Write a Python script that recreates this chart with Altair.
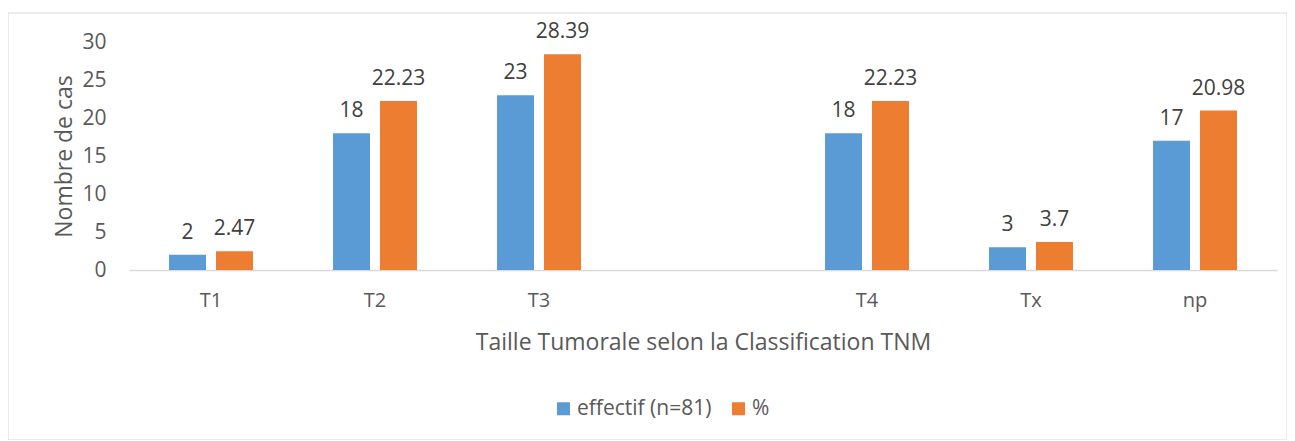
import altair as alt
import pandas as pd

categories = ["T1", "T2", "T3", "", "T4", "Tx", "np"]
present = ["T1", "T2", "T3", "T4", "Tx", "np"]
effectif = [2, 18, 23, 18, 3, 17]
percent = [2.47, 22.23, 28.39, 22.23, 3.7, 20.98]
series = ["effectif (n=81)", "%"]
colors = ["#5B9BD5", "#ED7D31"]
y_ticks = [0, 5, 10, 15, 20, 25, 30]

rows = []
for c, e, p in zip(present, effectif, percent):
    rows.append({"cat": c, "series": series[0], "value": e, "label": str(e)})
    rows.append({"cat": c, "series": series[1], "value": p, "label": f"{p:g}"})
df = pd.DataFrame(rows)

FONT = "Open Sans"
W, H = 1148, 228

x = alt.X(
    "cat:N",
    sort=categories,
    scale=alt.Scale(domain=categories, paddingInner=0.488, paddingOuter=0.244),
    axis=alt.Axis(
        title="Taille Tumorale selon la Classification TNM",
        titleFontSize=23,
        titleFontWeight="normal",
        titleColor="#595959",
        titleBaseline="alphabetic",
        titleY=79,
        labelAngle=0,
        labelFontSize=20,
        labelColor="#595959",
        labelPadding=20,
        ticks=False,
        domainColor="#d9d9d9",
        domainWidth=1.5,
    ),
)
xoff = alt.XOffset(
    "series:N",
    sort=series,
    scale=alt.Scale(domain=series, paddingInner=0.213, paddingOuter=0),
)
y = alt.Y(
    "value:Q",
    scale=alt.Scale(domain=[0, 30], nice=False),
    axis=alt.Axis(
        title="Nombre  de cas",
        titleFontSize=23,
        titleFontWeight="normal",
        titleColor="#595959",
        titleBaseline="alphabetic",
        titleX=-58,
        titleY=H / 2,
        titleAlign="center",
        titleAngle=270,
        values=y_ticks,
        labelFontSize=21,
        labelColor="#595959",
        labelPadding=23,
        ticks=False,
        domain=False,
        grid=False,
    ),
)
color = alt.Color(
    "series:N",
    sort=series,
    scale=alt.Scale(domain=series, range=colors),
    legend=alt.Legend(
        orient="none",
        legendX=424,
        legendY=356,
        padding=0,
        direction="horizontal",
        title=None,
        symbolType="square",
        symbolSize=169,
        symbolStrokeWidth=0,
        labelFontSize=21,
        labelColor="#595959",
        labelOffset=3,
        columnPadding=16,
    ),
)

bars = alt.Chart(df).mark_bar().encode(x=x, xOffset=xoff, y=y, color=color)
labels = alt.Chart(df).mark_text(
    baseline="alphabetic", dy=-16, fontSize=21, color="#404040", font=FONT
).encode(x=x, xOffset=xoff, y=y, text="label:N")

frame = alt.Chart(alt.Data(values=[{"f": 1}])).mark_rect(
    fill=None, stroke="#d9d9d9", strokeWidth=1
).encode(
    x=alt.value(-121), x2=alt.value(1158), y=alt.value(-29), y2=alt.value(398)
)

chart = (
    alt.layer(frame, bars, labels)
    .properties(
        width=W,
        height=H,
        autosize=alt.AutoSizeParams(type="none"),
        padding={"left": 121, "top": 34, "right": 10, "bottom": 170},
    )
    .configure(font=FONT, background="white")
    .configure_view(stroke=None)
)

chart.save("out.html", embed_options={"renderer": "svg", "actions": False})
